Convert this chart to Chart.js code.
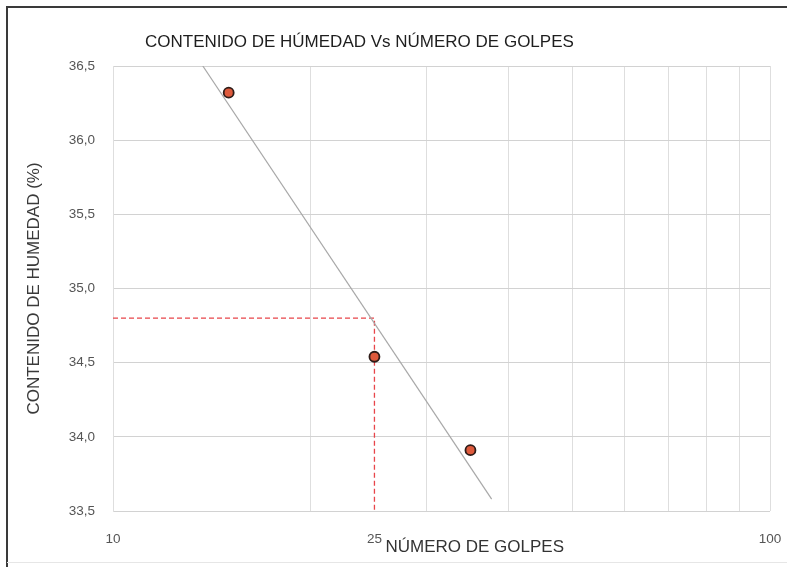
<!DOCTYPE html>
<html>
<head>
<meta charset="utf-8">
<script src="https://cdn.jsdelivr.net/npm/chart.js@4/dist/chart.umd.min.js"></script>
<style>
  html, body { margin: 0; padding: 0; background: #ffffff; }
  #wrap { position: relative; width: 787px; height: 567px; }
</style>
</head>
<body>
<div id="wrap"><canvas id="chart" width="787" height="567"></canvas></div>
<script>
// Measured points: number of blows vs. moisture content (%)
const golpes = [15, 25, 35];
const humedad = [36.32, 34.54, 33.91];

// Logarithmic trend line end points
const tendenciaX = [13.7, 37.7];
const tendenciaY = [36.5, 33.58];

// Reading at 25 blows (liquid limit guide)
const guiaX = [10, 25, 25];
const guiaY = [34.8, 34.8, 33.5];

// Axis ticks
const gridTicksX = [10, 20, 25, 30, 40, 50, 60, 70, 80, 90, 100];
const labeledTicksX = [10, 25, 100];
const yMin = 33.5, yMax = 36.5, yStep = 0.5;

const titulo = 'CONTENIDO DE HÚMEDAD Vs NÚMERO DE GOLPES';
const tituloX = 'NÚMERO DE GOLPES';
const tituloY = 'CONTENIDO DE HUMEDAD (%)';

const FONT = '"Liberation Sans", Arial, sans-serif';

const toXY = (xs, ys) => xs.map((x, i) => ({ x: x, y: ys[i] }));

const decorPlugin = {
  id: 'decor',
  beforeDraw(chart) {
    const ctx = chart.ctx;
    ctx.save();
    ctx.fillStyle = '#ffffff';
    ctx.fillRect(0, 0, chart.width, chart.height);
    // frame
    ctx.strokeStyle = '#3a3a3a';
    ctx.lineWidth = 2;
    ctx.beginPath();
    ctx.moveTo(7, chart.height);
    ctx.lineTo(7, 7);
    ctx.lineTo(chart.width, 7);
    ctx.stroke();
    ctx.strokeStyle = '#e6e6e6';
    ctx.lineWidth = 1;
    ctx.beginPath();
    ctx.moveTo(7, 562.5);
    ctx.lineTo(chart.width, 562.5);
    ctx.stroke();
    ctx.restore();
  },
  afterDraw(chart) {
    const ctx = chart.ctx;
    const xs = chart.scales.x;
    ctx.save();
    ctx.fillStyle = '#1e1e1e';
    ctx.font = '17px ' + FONT;
    ctx.textAlign = 'left';
    ctx.textBaseline = 'middle';
    ctx.fillText(titulo, 145, 42);
    ctx.fillStyle = '#333333';
    ctx.font = '17px ' + FONT;
    ctx.fillText(tituloX, xs.getPixelForValue(25) + 11, 547);
    ctx.restore();
  }
};

new Chart(document.getElementById('chart'), {
  type: 'scatter',
  data: {
    datasets: [
      {
        label: 'Guía',
        data: toXY(guiaX, guiaY),
        showLine: true,
        borderColor: '#e8454a',
        borderWidth: 1.3,
        borderDash: [5, 3],
        pointRadius: 0,
        fill: false,
        order: 3
      },
      {
        label: 'Tendencia',
        data: toXY(tendenciaX, tendenciaY),
        showLine: true,
        borderColor: '#a8a8a8',
        borderWidth: 1.2,
        pointRadius: 0,
        fill: false,
        order: 2
      },
      {
        label: 'Ensayos',
        data: toXY(golpes, humedad),
        pointRadius: 5,
        pointHoverRadius: 5,
        pointBackgroundColor: '#de5a3c',
        pointBorderColor: '#2e1c18',
        pointBorderWidth: 1.8,
        order: 1
      }
    ]
  },
  options: {
    responsive: false,
    animation: false,
    devicePixelRatio: 1,
    layout: { padding: { left: 0, right: 17, top: 66, bottom: 0 } },
    plugins: {
      legend: { display: false },
      tooltip: { enabled: false },
      title: { display: false }
    },
    scales: {
      x: {
        type: 'logarithmic',
        min: 10,
        max: 100,
        afterBuildTicks(scale) {
          scale.ticks = gridTicksX.map(v => ({ value: v }));
        },
        afterFit(scale) {
          scale.height = 56;
          scale.paddingLeft = 0;
          scale.paddingRight = 0;
        },
        grid: {
          drawTicks: false,
          color: ctx => (ctx.tick && ctx.tick.value === 25) ? 'rgba(0,0,0,0)' : '#dedede',
          lineWidth: 1
        },
        border: { display: false },
        ticks: {
          autoSkip: false,
          maxRotation: 0,
          padding: 20,
          color: '#555555',
          font: { family: FONT, size: 13.5 },
          callback: (value) => labeledTicksX.includes(value) ? String(value) : ''
        }
      },
      y: {
        min: yMin,
        max: yMax,
        afterFit(scale) { scale.width = 113; },
        grid: { drawTicks: false, color: '#d2d2d2', lineWidth: 1 },
        border: { color: '#dedede' },
        ticks: {
          stepSize: yStep,
          padding: 18,
          color: '#555555',
          font: { family: FONT, size: 13.5 },
          callback: (value) => value.toFixed(1).replace('.', ',')
        },
        title: {
          display: true,
          text: tituloY,
          color: '#3a3a3a',
          font: { family: FONT, size: 17 },
          padding: { top: 24, bottom: 0 }
        }
      }
    }
  },
  plugins: [decorPlugin]
});
</script>
</body>
</html>
